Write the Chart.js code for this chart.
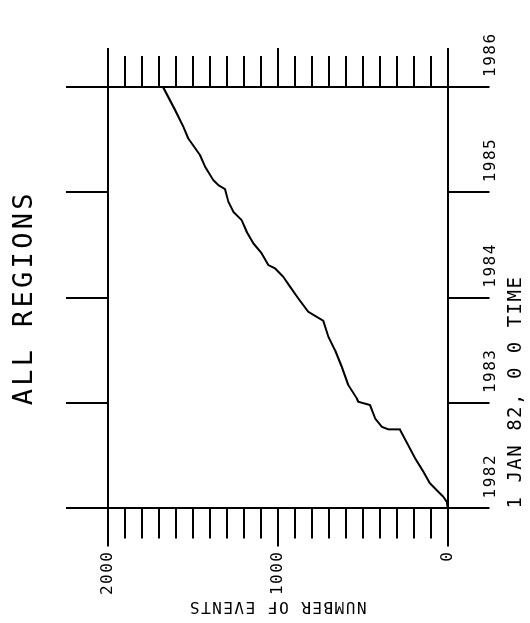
<!DOCTYPE html>
<html><head><meta charset="utf-8">
<script src="https://cdn.jsdelivr.net/npm/chart.js@4/dist/chart.umd.min.js"></script>
<style>
html,body{margin:0;padding:0;background:#fff;overflow:hidden;width:530px;height:623px;}
#wrap{position:absolute;left:0;top:0;width:623px;height:530px;transform-origin:0 0;transform:translate(0px,623px) rotate(-90deg);}
</style></head><body>
<div id="wrap"><canvas id="c" width="623" height="530"></canvas></div>
<script>
// ---- data ----
const chartTitle = 'ALL REGIONS';
const timeAxisTitle = '1 JAN 82, 0 0 TIME';
const countAxisTitle = 'NUMBER OF EVENTS';
const yearTicks = [1982, 1983, 1984, 1985, 1986];
const countLabelTicks = [0, 1000, 2000];
const eventTimes = [1982.0, 1982.017, 1982.065, 1982.112, 1982.159, 1982.239, 1982.349, 1982.476, 1982.602, 1982.745,
  1982.751, 1982.776, 1982.856, 1982.982, 1983.013, 1983.046, 1983.172, 1983.345, 1983.504, 1983.630,
  1983.782, 1983.867, 1983.994, 1984.104, 1984.199, 1984.279, 1984.310, 1984.421, 1984.516, 1984.626,
  1984.737, 1984.816, 1984.911, 1985.031, 1985.069, 1985.117, 1985.243, 1985.354, 1985.512, 1985.622,
  1985.783, 1985.996];
const eventCounts = [0, 0, 5, 25, 54, 103, 142, 191, 231, 279,
  348, 387, 426, 456, 525, 534, 584, 622, 662, 701,
  731, 819, 878, 926, 966, 1015, 1054, 1093, 1142, 1181,
  1211, 1260, 1289, 1309, 1348, 1378, 1426, 1456, 1525, 1554,
  1603, 1672];

// ---- chart ----
const FONT = "'DejaVu Sans Mono', monospace";
const INK = '#000';
const points = eventTimes.map((t, i) => ({x: t, y: eventCounts[i]}));
const tv = c => (c && c.tick) ? c.tick.value : NaN;
const isYearEdge = c => tv(c) === yearTicks[0] || tv(c) === yearTicks[yearTicks.length - 1];
const isCountEdge = c => tv(c) === 0 || tv(c) === 2000;
const isMajor = c => countLabelTicks.includes(tv(c));

const spacingPlugin = {
  id: 'spacing',
  beforeDraw(chart) {
    chart.ctx.letterSpacing = '1.5px';
    const tb = chart.titleBlock;
    if (tb && !tb._spaced) {
      const orig = tb.draw.bind(tb);
      tb.draw = function (area) {
        const ctx = this.ctx || chart.ctx;
        const prev = ctx.letterSpacing;
        ctx.letterSpacing = '3.3px';
        orig(area);
        ctx.letterSpacing = prev;
      };
      tb._spaced = true;
    }
  }
};

new Chart(document.getElementById('c').getContext('2d'), {
  type: 'line',
  data: {datasets: [{data: points, borderColor: INK, borderWidth: 2, pointRadius: 0,
    tension: 0, fill: false, borderJoinStyle: 'round'}]},
  plugins: [spacingPlugin],
  options: {
    responsive: false, animation: false, devicePixelRatio: 1,
    layout: {padding: 0},
    plugins: {
      legend: {display: false}, tooltip: {enabled: false},
      title: {display: true, text: chartTitle, fullSize: false, color: INK,
        font: {family: FONT, size: 27, weight: 'normal', lineHeight: 1.2},
        padding: {top: 8.8, bottom: 0}}
    },
    scales: {
      x: {
        type: 'linear', position: 'bottom', min: 1982, max: 1986,
        afterBuildTicks: s => { s.ticks = yearTicks.map(v => ({value: v})); },
        ticks: {align: 'start', labelOffset: 10, padding: -8, color: INK, maxRotation: 0, autoSkip: false,
          font: {family: FONT, size: 16, lineHeight: 1.2}, callback: v => String(v)},
        grid: {drawOnChartArea: true, color: c => isYearEdge(c) ? INK : 'rgba(0,0,0,0)', lineWidth: 2,
          tickLength: 42, tickColor: INK, tickWidth: 2},
        border: {display: true, color: INK, width: 2},
        title: {display: true, text: timeAxisTitle, align: 'start', color: INK,
          font: {family: FONT, size: 19, lineHeight: 1.2}, padding: {top: 0, bottom: 2.6}},
        afterFit: s => { s.height = 82.5; }
      },
      x2: {
        type: 'linear', position: 'top', min: 1982, max: 1986,
        afterBuildTicks: s => { s.ticks = yearTicks.map(v => ({value: v})); },
        ticks: {display: false, autoSkip: false},
        grid: {drawOnChartArea: false, color: INK, lineWidth: 2, tickLength: 41.5, tickColor: INK, tickWidth: 2},
        border: {display: true, color: INK, width: 2},
        afterFit: s => { s.height = 66.3; }
      },
      y: {
        type: 'linear', position: 'left', min: 0, max: 2000,
        ticks: {stepSize: 100, autoSkip: false, padding: 4, color: INK,
          font: {family: FONT, size: 16, lineHeight: 1.2},
          callback: v => countLabelTicks.includes(v) ? String(v) : ''},
        grid: {drawOnChartArea: true, color: c => isCountEdge(c) ? INK : 'rgba(0,0,0,0)', lineWidth: 2,
          tickLength: 38, tickColor: INK, tickWidth: 2,
          tickBorderDash: c => isMajor(c) ? [] : [0, 8, 30, 100]},
        border: {display: true, color: INK, width: 2},
        title: {display: true, text: countAxisTitle, color: INK,
          font: {family: FONT, size: 16, lineHeight: 1.2}, padding: {top: 7.4, bottom: 0}},
        afterFit: s => { s.width = 114.5; }
      },
      y2: {
        type: 'linear', position: 'right', min: 0, max: 2000,
        ticks: {display: false, stepSize: 100, autoSkip: false},
        grid: {drawOnChartArea: false, color: INK, lineWidth: 2, tickLength: 39, tickColor: INK, tickWidth: 2,
          tickBorderDash: c => isMajor(c) ? [] : [30, 100]},
        border: {display: true, color: INK, width: 2},
        afterFit: s => { s.width = 87; }
      }
    }
  }
});
</script>
</body></html>
